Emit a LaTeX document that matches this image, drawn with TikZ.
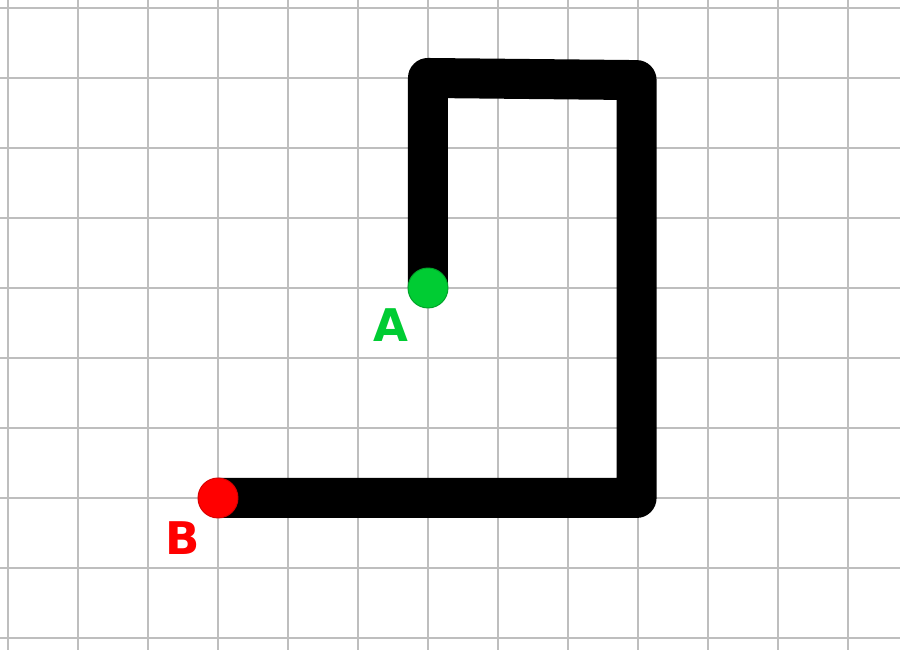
\documentclass[tikz,border=0pt]{standalone}
\usepackage{fontspec}
\setmainfont{DejaVu Sans}
\usepackage{tikz}
\usetikzlibrary{positioning}
\definecolor{gridgray}{RGB}{190,190,190}
\definecolor{ptgreen}{RGB}{0,204,51}
\definecolor{ptred}{RGB}{255,0,0}
\tikzset{
    wire/.style={line width=16.26pt, line join=round, black},
    endpt/.style={circle, minimum size=0.571cm, inner sep=0pt},
    ptlabel/.style={font=\bfseries\fontsize{18.3}{20}\selectfont, inner sep=0pt}
}

\begin{document}
\begin{tikzpicture}
    % 画布与网格
    \useasboundingbox[fill=white] (-0.114, -0.171) rectangle (12.743, 9.114);
    \draw[gridgray, line width=0.8pt] (-0.114, -0.171) grid (12.743, 9.114);

    % 路径的拐点
    \coordinate (pA) at (6, 5);
    \coordinate (c1) at (6, 8);
    \coordinate (c2) at (8.98, 7.97);
    \coordinate (c3) at (8.98, 2);
    \coordinate (pB) at (3, 2);

    % 粗线
    \draw[wire] (pA) -- (c1) -- (c2) -- (c3) -- (pB);

    % 端点
    \node[endpt, fill=ptgreen, draw=ptgreen!80!black, line width=0.4pt] (dotA) at (pA) {};
    \node[endpt, fill=ptred, draw=ptred!85!black, line width=0.4pt] (dotB) at (pB) {};

    % 标注
    \node[ptlabel, text=ptgreen] (labA) at (5.47, 4.47) {A};
    \node[ptlabel, text=ptred] (labB) at (2.49, 1.43) {B};
\end{tikzpicture}
\end{document}
